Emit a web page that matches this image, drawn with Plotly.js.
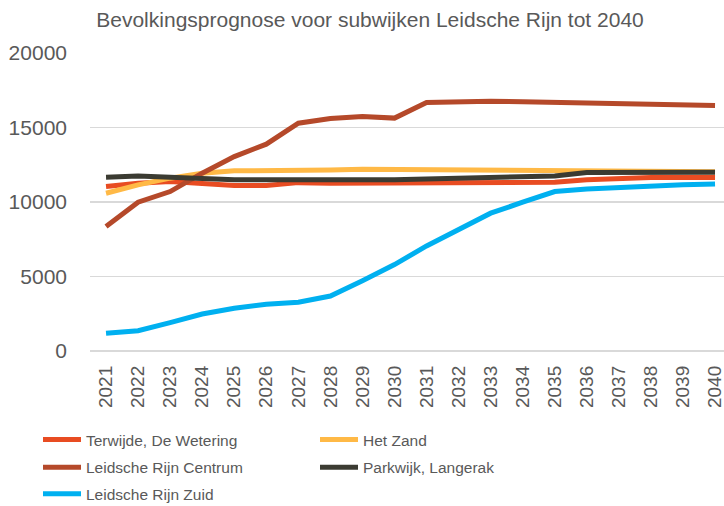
<!DOCTYPE html>
<html>
<head>
<meta charset="utf-8">
<script src="https://cdn.plot.ly/plotly-3.0.1.min.js"></script>
<style>html,body{margin:0;padding:0;background:#fff;}#chart{width:724px;height:506px;}</style>
</head>
<body>
<div id="chart"></div>
<script>
const years = ['2021','2022','2023','2024','2025','2026','2027','2028','2029','2030','2031','2032','2033','2034','2035','2036','2037','2038','2039','2040'];
const seriesNames = ['Terwijde, De Wetering','Het Zand','Leidsche Rijn Centrum','Parkwijk, Langerak','Leidsche Rijn Zuid'];
const terwijde = [11035,11260,11375,11215,11100,11100,11300,11260,11260,11260,11300,11300,11300,11300,11320,11485,11600,11640,11640,11640];
const hetZand = [10590,11150,11600,11935,12090,12100,12090,12155,12200,12180,12155,12155,12155,12155,12155,12060,12040,12040,12030,12030];
const centrum = [8350,9985,10700,11935,13050,13880,15290,15600,15735,15630,16675,16720,16770,16720,16675,16610,16570,16550,16500,16475];
const parkwijk = [11665,11750,11665,11550,11485,11485,11460,11485,11485,11485,11530,11600,11660,11710,11750,11975,12000,12000,12000,12000];
const zuid = [1190,1365,1900,2485,2870,3135,3270,3690,4720,5800,7050,8190,9250,9985,10700,10880,10990,11080,11150,11215];
const colors = ['#E84C22','#FFB946','#B5492A','#3B3B32','#00B0F0'];
const values = [terwijde, hetZand, centrum, parkwijk, zuid];
const legendRow = ['legend','legend','legend2','legend2','legend3'];

const traces = values.map((v, i) => ({
  type: 'scatter', mode: 'lines', x: years, y: v, name: seriesNames[i],
  line: {color: colors[i], width: 5}, legend: legendRow[i]
}));

function legendAt(topPx) {
  return {orientation: 'h', xref: 'container', yref: 'container', x: 38/724, xanchor: 'left',
    y: 1 - topPx/506, yanchor: 'top', entrywidth: 224, entrywidthmode: 'pixels', itemwidth: 38,
    font: {family: 'Liberation Sans, Arial, sans-serif', size: 15.5, color: '#595959'},
    bgcolor: 'rgba(0,0,0,0)', traceorder: 'normal'};
}

const layout = {
  width: 724, height: 506,
  margin: {l: 90, r: 0, t: 53, b: 155},
  paper_bgcolor: '#fff', plot_bgcolor: '#fff',
  title: {text: 'Bevolkingsprognose voor subwijken Leidsche Rijn tot 2040',
    font: {family: 'Liberation Sans, Arial, sans-serif', size: 21, color: '#595959'},
    x: 370/724, xanchor: 'center', xref: 'container', y: 1 - 20/506, yanchor: 'middle', yref: 'container'},
  xaxis: {type: 'category', range: [-0.5, 19.28], showgrid: false, zeroline: false, showline: false,
    ticks: '', tickangle: -90, ticklabelstandoff: 10,
    tickfont: {family: 'Liberation Sans, Arial, sans-serif', size: 19, color: '#595959'}},
  yaxis: {range: [0, 20000], dtick: 5000, showgrid: true, gridcolor: '#D9D9D9', gridwidth: 1.5,
    zeroline: true, zerolinecolor: '#D9D9D9', zerolinewidth: 1.5, showline: false, ticks: '',
    ticklabelstandoff: 22, tickformat: 'd',
    tickfont: {family: 'Liberation Sans, Arial, sans-serif', size: 21, color: '#595959'}},
  showlegend: true,
  legend: legendAt(423),
  legend2: legendAt(450.7),
  legend3: legendAt(477.3)
};

Plotly.newPlot('chart', traces, layout, {displayModeBar: false, staticPlot: true});
</script>
</body>
</html>
